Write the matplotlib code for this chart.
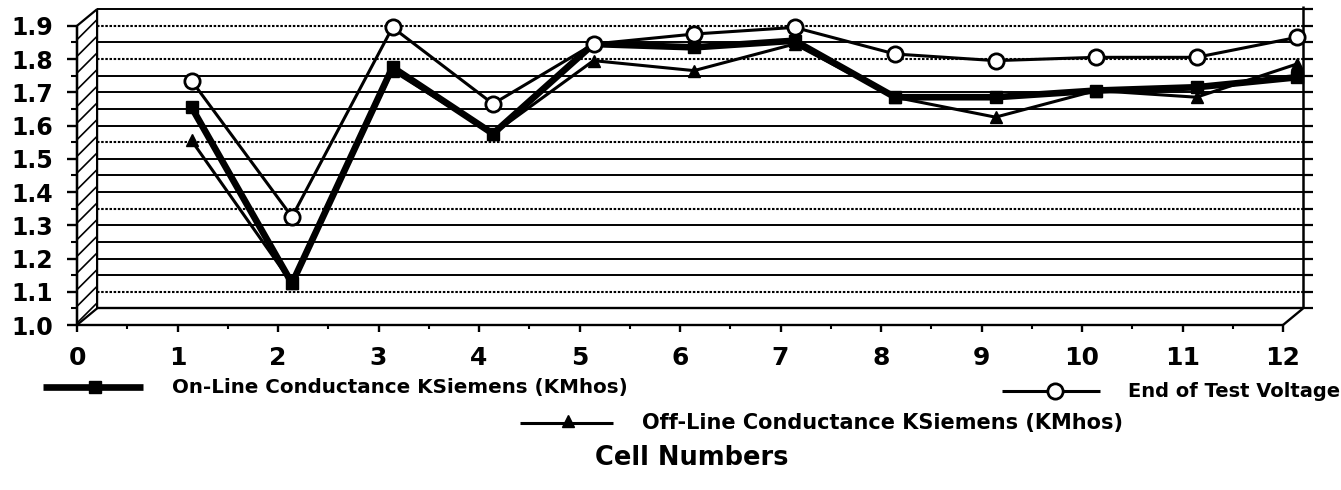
#!/usr/bin/env python3
"""Cell conductance / end-of-test voltage chart, drawn as a shallow 3-D box."""
import numpy as np
import matplotlib
matplotlib.use("Agg")
import matplotlib.pyplot as plt
from matplotlib.patches import Polygon
from matplotlib.transforms import ScaledTranslation

cells = [1, 2, 3, 4, 5, 6, 7, 8, 9, 10, 11, 12]
end_of_test_voltage = [1.70, 1.29, 1.86, 1.63, 1.81, 1.84, 1.86, 1.78, 1.76, 1.77, 1.77, 1.83]
online_conductance = [1.62, 1.09, 1.74, 1.54, 1.81, 1.80, 1.82, 1.65, 1.65, 1.67, 1.68, 1.71]
offline_conductance = [1.52, 1.09, 1.73, 1.54, 1.76, 1.73, 1.81, 1.65, 1.59, 1.67, 1.65, 1.75]

y_ticks = [1.0, 1.1, 1.2, 1.3, 1.4, 1.5, 1.6, 1.7, 1.8, 1.9]
x_ticks = list(range(0, 13))

label_online = "On-Line Conductance KSiemens (KMhos)"
label_offline = "Off-Line Conductance KSiemens (KMhos)"
label_eot = "End of Test Voltage"
x_title = "Cell Numbers"

W, H = 1341, 490
plt.rcParams["font.family"] = "DejaVu Sans"
plt.rcParams["hatch.linewidth"] = 1.2

fig = plt.figure(figsize=(W / 100, H / 100), dpi=100)
# front face of the box: x 0..12, y 1.0..1.9
ax = fig.add_axes([77 / W, (H - 325) / H, (1283 - 77) / W, (325 - 25.8) / H])
ax.set_xlim(0, 12)
ax.set_ylim(1.0, 1.9)
for s in ax.spines.values():
    s.set_visible(False)

# depth of the box in data units (back wall offset)
DX, DY = 0.2, 0.05
k = dict(color="black", clip_on=False, solid_capstyle="butt")

# back wall grid, one line every 0.05
dotted_levels = {1.05, 1.3, 1.5, 1.75, 1.85}
for lv in np.round(np.arange(1.0, 1.9001, 0.05), 2):
    if lv in dotted_levels:
        ax.plot([DX, 12 + DX], [lv + DY, lv + DY], lw=1.5, ls=(0, (1.2, 0.8)), **k)
    else:
        ax.plot([DX, 12 + DX], [lv + DY, lv + DY], lw=1.4, **k)
    # little ticks on the right edge of the back wall
    ax.plot([12 + DX, 12 + DX + 0.1], [lv + DY, lv + DY], lw=1.6, **k)

# left side wall, hatched
wall = Polygon([(0, 1.0), (0, 1.9), (DX, 1.9 + DY), (DX, 1.0 + DY)],
               closed=True, facecolor="white", edgecolor="black", lw=1.6,
               hatch="//", clip_on=False, zorder=1.5)
ax.add_patch(wall)

# box edges
ax.plot([0, 0], [1.0, 1.9], lw=1.7, **k)
ax.plot([0, 12], [1.0, 1.0], lw=1.7, **k)
ax.plot([12, 12 + DX], [1.0, 1.0 + DY], lw=1.7, **k)
ax.plot([DX, 12 + DX], [1.0 + DY, 1.0 + DY], lw=1.7, **k)
ax.plot([12 + DX, 12 + DX], [1.0 + DY, 1.9 + DY + 0.01], lw=1.8, **k)

# ticks
ax.set_yticks(y_ticks)
ax.set_yticklabels([f"{v:.1f}" for v in y_ticks])
ax.set_yticks(np.arange(1.05, 1.9, 0.1), minor=True)
ax.set_xticks(x_ticks)
ax.set_xticklabels([str(v) for v in x_ticks])
ax.set_xticks(np.arange(0.5, 12, 1.0), minor=True)
ax.tick_params(axis="y", which="major", direction="out", length=7, width=1.7,
               pad=10, labelsize=17)
ax.tick_params(axis="y", which="minor", direction="out", length=4, width=1.5)
ax.tick_params(axis="x", which="major", direction="out", length=5, width=1.7,
               pad=10, labelsize=18)
ax.tick_params(axis="x", which="minor", direction="out", length=3, width=1.5)
for lab in ax.get_xticklabels() + ax.get_yticklabels():
    lab.set_fontweight("bold")

# series sit part way into the box
mid = ax.transData + ScaledTranslation(14 / 100, 11.7 / 100, fig.dpi_scale_trans)
ax.plot(cells, offline_conductance, color="black", lw=2.2, marker="^", ms=9,
        transform=mid, clip_on=False, zorder=3)
ax.plot(cells, online_conductance, color="black", lw=4.8, marker="s", ms=9,
        transform=mid, clip_on=False, zorder=4)
ax.plot(cells, end_of_test_voltage, color="black", lw=2.2, marker="o", ms=11,
        mfc="white", mec="black", mew=2, transform=mid, clip_on=False, zorder=5)

# legend and axis title, laid out in pixel coordinates
ov = fig.add_axes([0, 0, 1, 1], facecolor="none")
ov.set_xlim(0, W)
ov.set_ylim(H, 0)
ov.axis("off")

ov.plot([43, 143], [387, 387], color="black", lw=4.8, solid_capstyle="butt")
ov.plot([95], [387], color="black", marker="s", ms=9)
ov.text(172, 387, label_online, fontsize=14.3, fontweight="bold", va="center", ha="left")

ov.plot([520, 613], [423, 423], color="black", lw=2.2, solid_capstyle="butt")
ov.plot([568], [421], color="black", marker="^", ms=9)
ov.text(642, 423, label_offline, fontsize=15, fontweight="bold", va="center", ha="left")

ov.plot([1002, 1100], [391, 391], color="black", lw=2.2, solid_capstyle="butt")
ov.plot([1055], [391], marker="o", ms=11, mfc="white", mec="black", mew=2)
ov.text(1128, 391, label_eot, fontsize=14, fontweight="bold", va="center", ha="left")

ov.text(692, 458, x_title, fontsize=18.5, fontweight="bold", va="center", ha="center")

fig.savefig("out.png", dpi=100)
